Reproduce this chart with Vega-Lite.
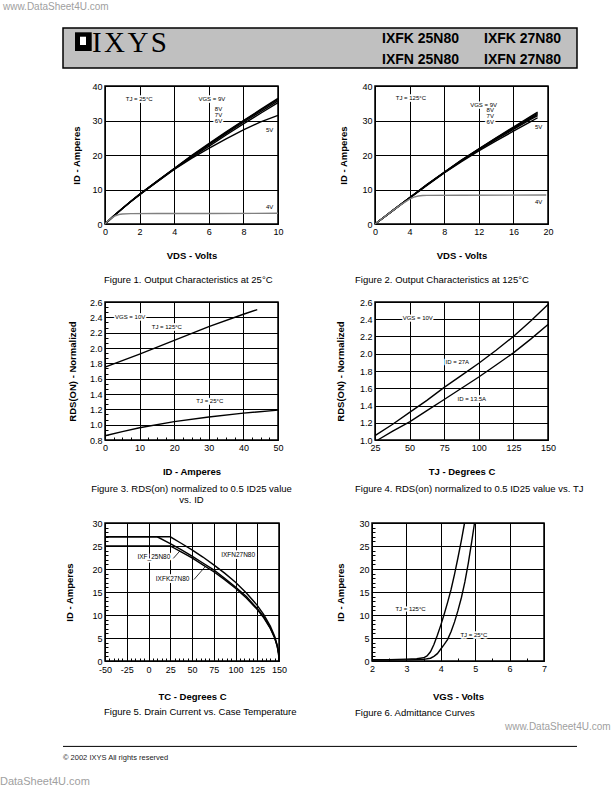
{
"$schema": "https://vega.github.io/schema/vega-lite/v6.json",
"padding": 0,
"background": "white",
"bounds": "flush",
"spacing": 0,
"config": {
 "view": {"stroke": "black", "strokeWidth": 1.5},
 "axis": {"grid": true, "gridColor": "black", "gridWidth": 1, "domain": false, "ticks": true, "tickSize": -3, "tickColor": "black", "tickWidth": 1, "labelPadding": 6, "labelFont": "Liberation Sans", "labelFontSize": 9, "labelColor": "black", "labelFlush": false, "labelOverlap": false, "titleFont": "Liberation Sans", "titleFontSize": 9.5, "titleFontWeight": "bold", "titleColor": "black"},
 "title": {"font": "Liberation Sans", "fontSize": 9.5, "fontWeight": "normal", "color": "black"},
 "text": {"font": "Liberation Sans"}
},
"datasets": {
 "wm": [{"x": 3, "y": 7, "t": "www.DataSheet4U.com"}, {"x": 505, "y": 727, "t": "www.DataSheet4U.com"}],
 "wm2": [{"x": 0, "y": 782, "t": "DataSheet4U.com"}],
 "hbox": [{"x": 0, "x2": 514, "y": 28, "y2": 68}],
 "hlogo": [{"x": 12, "x2": 28.7, "y": 32.3, "y2": 51}],
 "hlogoin": [{"x": 17, "x2": 23, "y": 36.7, "y2": 45}],
 "htitle": [{"x": 29, "y": 51.5, "t": "I\u200aX\u200aY\u200aS"}],
 "hparts": [{"x": 319, "y": 42.8, "t": "IXFK 25N80"}, {"x": 421, "y": 42.8, "t": "IXFK 27N80"}, {"x": 319, "y": 64, "t": "IXFN 25N80"}, {"x": 421, "y": 64, "t": "IXFN 27N80"}],
 "frule": [{"x": 0, "x2": 514, "y": 16.4}],
 "ftext": [{"x": 0, "y": 28.2, "t": "© 2002 IXYS All rights reserved"}],
 "f1": [
  {"s":"9V","x":0,"y":0},{"s":"9V","x":0.5,"y":2.3},{"s":"9V","x":1,"y":4.5},{"s":"9V","x":1.5,"y":6.6},{"s":"9V","x":2,"y":8.6},{"s":"9V","x":3,"y":12.4},{"s":"9V","x":4,"y":16.1},{"s":"9V","x":5,"y":19.8},{"s":"9V","x":6,"y":23.3},{"s":"9V","x":7,"y":26.7},{"s":"9V","x":8,"y":30.0},{"s":"9V","x":9,"y":33.2},{"s":"9V","x":10,"y":36.4},
  {"s":"8V","x":0,"y":0},{"s":"8V","x":0.5,"y":2.3},{"s":"8V","x":1,"y":4.5},{"s":"8V","x":1.5,"y":6.6},{"s":"8V","x":2,"y":8.6},{"s":"8V","x":3,"y":12.4},{"s":"8V","x":4,"y":16.1},{"s":"8V","x":5,"y":19.7},{"s":"8V","x":6,"y":23.1},{"s":"8V","x":7,"y":26.5},{"s":"8V","x":8,"y":29.8},{"s":"8V","x":9,"y":33.0},{"s":"8V","x":10,"y":36.1},
  {"s":"7V","x":0,"y":0},{"s":"7V","x":0.5,"y":2.3},{"s":"7V","x":1,"y":4.5},{"s":"7V","x":1.5,"y":6.6},{"s":"7V","x":2,"y":8.6},{"s":"7V","x":3,"y":12.3},{"s":"7V","x":4,"y":16.0},{"s":"7V","x":5,"y":19.6},{"s":"7V","x":6,"y":22.9},{"s":"7V","x":7,"y":26.2},{"s":"7V","x":8,"y":29.5},{"s":"7V","x":9,"y":32.6},{"s":"7V","x":10,"y":35.7},
  {"s":"6V","x":0,"y":0},{"s":"6V","x":0.5,"y":2.3},{"s":"6V","x":1,"y":4.5},{"s":"6V","x":1.5,"y":6.5},{"s":"6V","x":2,"y":8.5},{"s":"6V","x":3,"y":12.2},{"s":"6V","x":4,"y":15.9},{"s":"6V","x":5,"y":19.3},{"s":"6V","x":6,"y":22.5},{"s":"6V","x":7,"y":25.8},{"s":"6V","x":8,"y":29.0},{"s":"6V","x":9,"y":32.1},{"s":"6V","x":10,"y":35.2},
  {"s":"5V","x":0,"y":0},{"s":"5V","x":0.5,"y":2.3},{"s":"5V","x":1,"y":4.4},{"s":"5V","x":1.5,"y":6.5},{"s":"5V","x":2,"y":8.5},{"s":"5V","x":3,"y":12.2},{"s":"5V","x":4,"y":15.8},{"s":"5V","x":5,"y":19.0},{"s":"5V","x":6,"y":21.9},{"s":"5V","x":7,"y":24.7},{"s":"5V","x":8,"y":27.3},{"s":"5V","x":9,"y":29.6},{"s":"5V","x":10,"y":31.5}
 ],
 "f1g": [{"x":0,"y":0},{"x":0.2,"y":1.0},{"x":0.4,"y":1.8},{"x":0.6,"y":2.4},{"x":0.8,"y":2.75},{"x":1,"y":2.9},{"x":1.5,"y":3.0},{"x":3,"y":3.05},{"x":6,"y":3.05},{"x":10,"y":3.1}],
 "f1lab": [{"x":1.2,"y":36.2,"t":"TJ = 25°C"},{"x":5.4,"y":36.2,"t":"VGS = 9V"},{"x":6.35,"y":33.2,"t":"8V"},{"x":6.35,"y":31.5,"t":"7V"},{"x":6.35,"y":29.8,"t":"6V"},{"x":9.3,"y":27.2,"t":"5V"},{"x":9.3,"y":5.0,"t":"4V"}],
 "f2": [
  {"s":"9V","x":0,"y":0},{"s":"9V","x":1,"y":1.9},{"s":"9V","x":2,"y":3.8},{"s":"9V","x":4,"y":7.6},{"s":"9V","x":6,"y":11.4},{"s":"9V","x":8,"y":15.0},{"s":"9V","x":10,"y":18.5},{"s":"9V","x":12,"y":21.8},{"s":"9V","x":14,"y":25.0},{"s":"9V","x":16,"y":28.1},{"s":"9V","x":18,"y":31.2},{"s":"9V","x":18.8,"y":32.4},
  {"s":"8V","x":0,"y":0},{"s":"8V","x":1,"y":1.9},{"s":"8V","x":2,"y":3.8},{"s":"8V","x":4,"y":7.6},{"s":"8V","x":6,"y":11.4},{"s":"8V","x":8,"y":15.0},{"s":"8V","x":10,"y":18.5},{"s":"8V","x":12,"y":21.7},{"s":"8V","x":14,"y":24.9},{"s":"8V","x":16,"y":27.9},{"s":"8V","x":18,"y":30.9},{"s":"8V","x":18.8,"y":32.1},
  {"s":"7V","x":0,"y":0},{"s":"7V","x":1,"y":1.9},{"s":"7V","x":2,"y":3.8},{"s":"7V","x":4,"y":7.6},{"s":"7V","x":6,"y":11.3},{"s":"7V","x":8,"y":14.9},{"s":"7V","x":10,"y":18.4},{"s":"7V","x":12,"y":21.6},{"s":"7V","x":14,"y":24.7},{"s":"7V","x":16,"y":27.7},{"s":"7V","x":18,"y":30.6},{"s":"7V","x":18.8,"y":31.8},
  {"s":"6V","x":0,"y":0},{"s":"6V","x":1,"y":1.9},{"s":"6V","x":2,"y":3.8},{"s":"6V","x":4,"y":7.6},{"s":"6V","x":6,"y":11.3},{"s":"6V","x":8,"y":14.9},{"s":"6V","x":10,"y":18.3},{"s":"6V","x":12,"y":21.5},{"s":"6V","x":14,"y":24.5},{"s":"6V","x":16,"y":27.4},{"s":"6V","x":18,"y":30.3},{"s":"6V","x":18.8,"y":31.4},
  {"s":"5V","x":0,"y":0},{"s":"5V","x":1,"y":1.9},{"s":"5V","x":2,"y":3.8},{"s":"5V","x":4,"y":7.5},{"s":"5V","x":6,"y":11.2},{"s":"5V","x":8,"y":14.8},{"s":"5V","x":10,"y":18.1},{"s":"5V","x":12,"y":21.2},{"s":"5V","x":14,"y":24.1},{"s":"5V","x":16,"y":26.9},{"s":"5V","x":18,"y":29.7},{"s":"5V","x":18.8,"y":30.8}
 ],
 "f2g": [{"x":0,"y":0},{"x":1,"y":1.9},{"x":2,"y":3.8},{"x":3,"y":5.6},{"x":4,"y":7.2},{"x":4.5,"y":7.8},{"x":5,"y":8.1},{"x":5.5,"y":8.25},{"x":6,"y":8.3},{"x":10,"y":8.35},{"x":19.8,"y":8.4}],
 "f2lab": [{"x":2.4,"y":36.5,"t":"TJ = 125°C"},{"x":11.0,"y":34.6,"t":"VGS = 9V"},{"x":12.9,"y":32.9,"t":"8V"},{"x":12.9,"y":31.2,"t":"7V"},{"x":12.9,"y":29.5,"t":"6V"},{"x":18.5,"y":28.1,"t":"5V"},{"x":18.5,"y":6.3,"t":"4V"}],
 "f3": [
  {"s":"125","x":0,"y":1.75},{"s":"125","x":10,"y":1.92},{"s":"125","x":20,"y":2.1},{"s":"125","x":30,"y":2.28},{"s":"125","x":40,"y":2.44},{"s":"125","x":44,"y":2.5},
  {"s":"25","x":0,"y":0.855},{"s":"25","x":5,"y":0.91},{"s":"25","x":10,"y":0.96},{"s":"25","x":20,"y":1.04},{"s":"25","x":30,"y":1.1},{"s":"25","x":40,"y":1.15},{"s":"25","x":50,"y":1.19}
 ],
 "f3lab": [{"x":2.9,"y":2.41,"t":"VGS = 10V"},{"x":13.5,"y":2.28,"t":"TJ = 125°C"},{"x":26.4,"y":1.31,"t":"TJ = 25°C"}],
 "f4": [
  {"s":"27","x":25,"y":1.05},{"s":"27","x":37.5,"y":1.18},{"s":"27","x":50,"y":1.32},{"s":"27","x":62.5,"y":1.46},{"s":"27","x":75,"y":1.61},{"s":"27","x":87.5,"y":1.75},{"s":"27","x":100,"y":1.89},{"s":"27","x":112.5,"y":2.04},{"s":"27","x":125,"y":2.2},{"s":"27","x":137.5,"y":2.38},{"s":"27","x":150,"y":2.57},
  {"s":"13.5","x":27,"y":1.0},{"s":"13.5","x":37.5,"y":1.1},{"s":"13.5","x":50,"y":1.21},{"s":"13.5","x":62.5,"y":1.34},{"s":"13.5","x":75,"y":1.47},{"s":"13.5","x":87.5,"y":1.6},{"s":"13.5","x":100,"y":1.73},{"s":"13.5","x":112.5,"y":1.87},{"s":"13.5","x":125,"y":2.01},{"s":"13.5","x":137.5,"y":2.17},{"s":"13.5","x":150,"y":2.34}
 ],
 "f4lab": [{"x":45,"y":2.41,"t":"VGS = 10V"},{"x":76,"y":1.9,"t":"ID = 27A"},{"x":84.6,"y":1.48,"t":"ID = 13.5A"}],
 "f5": [
  {"s":"N27","x":-50,"y":27},{"s":"N27","x":25,"y":27},{"s":"N27","x":37.5,"y":25.6},{"s":"N27","x":50,"y":24.15},{"s":"N27","x":62.5,"y":22.6},{"s":"N27","x":75,"y":20.9},{"s":"N27","x":87.5,"y":19.1},{"s":"N27","x":100,"y":17.1},{"s":"N27","x":112.5,"y":14.8},{"s":"N27","x":125,"y":12.1},{"s":"N27","x":132.5,"y":10.1},{"s":"N27","x":140,"y":7.6},{"s":"N27","x":145,"y":5.4},{"s":"N27","x":148,"y":3.4},{"s":"N27","x":149.5,"y":1.7},{"s":"N27","x":150,"y":0},
  {"s":"K27","x":-50,"y":27},{"s":"K27","x":10,"y":27},{"s":"K27","x":25,"y":25.5},{"s":"K27","x":37.5,"y":24.2},{"s":"K27","x":50,"y":22.8},{"s":"K27","x":62.5,"y":21.3},{"s":"K27","x":75,"y":19.8},{"s":"K27","x":87.5,"y":18.0},{"s":"K27","x":100,"y":16.1},{"s":"K27","x":112.5,"y":14.0},{"s":"K27","x":125,"y":11.4},{"s":"K27","x":132.5,"y":9.6},{"s":"K27","x":140,"y":7.2},{"s":"K27","x":145,"y":5.1},{"s":"K27","x":148,"y":3.2},{"s":"K27","x":149.5,"y":1.6},{"s":"K27","x":150,"y":0},
  {"s":"F25","x":-50,"y":25},{"s":"F25","x":25,"y":25},{"s":"F25","x":37.5,"y":23.7},{"s":"F25","x":50,"y":22.4},{"s":"F25","x":62.5,"y":20.9},{"s":"F25","x":75,"y":19.4},{"s":"F25","x":87.5,"y":17.7},{"s":"F25","x":100,"y":15.8},{"s":"F25","x":112.5,"y":13.7},{"s":"F25","x":125,"y":11.2},{"s":"F25","x":132.5,"y":9.4},{"s":"F25","x":140,"y":7.1},{"s":"F25","x":145,"y":5.0},{"s":"F25","x":148,"y":3.2},{"s":"F25","x":149.5,"y":1.6},{"s":"F25","x":150,"y":0}
 ],
 "f5lab": [{"x":-12.7,"y":22.6,"t":"IXF_25N80"},{"x":83.5,"y":23.0,"t":"IXFN27N80"},{"x":8.4,"y":17.8,"t":"IXFK27N80"}],
 "f5lead": [{"x":28.5,"y":22.3,"x2":36,"y2":23.9},{"x":52.2,"y":17.7,"x2":65.6,"y2":20.6}],
 "f6": [
  {"s":"125","x":2,"y":0.3},{"s":"125","x":2.5,"y":0.3},{"s":"125","x":3,"y":0.4},{"s":"125","x":3.3,"y":0.5},{"s":"125","x":3.5,"y":0.7},{"s":"125","x":3.6,"y":1.1},{"s":"125","x":3.7,"y":2.0},{"s":"125","x":3.8,"y":3.6},{"s":"125","x":3.9,"y":5.6},{"s":"125","x":4.0,"y":7.8},{"s":"125","x":4.1,"y":10.2},{"s":"125","x":4.2,"y":12.8},{"s":"125","x":4.3,"y":15.6},{"s":"125","x":4.4,"y":18.9},{"s":"125","x":4.5,"y":22.5},{"s":"125","x":4.6,"y":26.3},{"s":"125","x":4.69,"y":30},
  {"s":"25","x":2,"y":0.2},{"s":"25","x":3,"y":0.25},{"s":"25","x":3.5,"y":0.35},{"s":"25","x":3.7,"y":0.6},{"s":"25","x":3.8,"y":1.0},{"s":"25","x":3.9,"y":1.6},{"s":"25","x":4.0,"y":2.6},{"s":"25","x":4.1,"y":3.6},{"s":"25","x":4.2,"y":4.7},{"s":"25","x":4.3,"y":6.4},{"s":"25","x":4.4,"y":8.5},{"s":"25","x":4.5,"y":11.0},{"s":"25","x":4.6,"y":13.8},{"s":"25","x":4.7,"y":17.2},{"s":"25","x":4.8,"y":21.3},{"s":"25","x":4.9,"y":26.0},{"s":"25","x":4.98,"y":30}
 ],
 "f6lab": [{"x":2.68,"y":11.4,"t":"TJ = 125°C"},{"x":4.57,"y":5.75,"t":"TJ = 25°C"}]
},
"hconcat": [
 {
  "width": 105, "height": 792, "view": {"stroke": null},
  "encoding": {
   "x": {"field": "x", "type": "quantitative", "scale": {"domain": [0, 105], "nice": false, "zero": false}, "axis": null},
   "y": {"field": "y", "type": "quantitative", "scale": {"domain": [0, 792], "reverse": true, "nice": false, "zero": false}, "axis": null},
   "text": {"field": "t"}
  },
  "layer": [
   {"data": {"name": "wm"}, "mark": {"type": "text", "align": "left", "baseline": "middle", "fontSize": 10, "color": "#a0a0a0"}},
   {"data": {"name": "wm2"}, "mark": {"type": "text", "align": "left", "baseline": "middle", "fontSize": 11, "color": "#a0a0a0"}}
  ]
 },
 {
  "spacing": 12,
  "vconcat": [
   {
    "width": 472, "height": 68, "view": {"stroke": null},
    "encoding": {
     "x": {"field": "x", "type": "quantitative", "scale": {"domain": [42, 514], "nice": false, "zero": false}, "axis": null},
     "y": {"field": "y", "type": "quantitative", "scale": {"domain": [0, 68], "reverse": true, "nice": false, "zero": false}, "axis": null}
    },
    "layer": [
     {"data": {"name": "hbox"}, "mark": {"type": "rect", "fill": "#c0c0c0", "stroke": "black", "strokeWidth": 1.5}, "encoding": {"x2": {"field": "x2"}, "y2": {"field": "y2"}}},
     {"data": {"name": "hlogo"}, "mark": {"type": "rect", "fill": "black"}, "encoding": {"x2": {"field": "x2"}, "y2": {"field": "y2"}}},
     {"data": {"name": "hlogoin"}, "mark": {"type": "rect", "fill": "white"}, "encoding": {"x2": {"field": "x2"}, "y2": {"field": "y2"}}},
     {"data": {"name": "htitle"}, "mark": {"type": "text", "align": "left", "baseline": "alphabetic", "font": "Liberation Serif", "fontSize": 29, "color": "black"}, "encoding": {"text": {"field": "t"}}},
     {"data": {"name": "hparts"}, "mark": {"type": "text", "align": "left", "baseline": "alphabetic", "fontSize": 14, "fontWeight": "bold", "color": "black"}, "encoding": {"text": {"field": "t"}}}
    ]
   },
   {
    "bounds": "flush", "spacing": 97,
    "hconcat": [
     {
      "width": 173, "height": 138,
      "title": {"text": "Figure 1. Output Characteristics at 25°C", "orient": "bottom", "anchor": "start", "frame": "group", "dx": -1, "offset": 15},
      "encoding": {
       "x": {"field": "x", "type": "quantitative", "scale": {"domain": [0, 10], "nice": false, "zero": false}, "axis": {"values": [0, 2, 4, 6, 8, 10], "title": "VDS - Volts", "titlePadding": 14}},
       "y": {"field": "y", "type": "quantitative", "scale": {"domain": [0, 40], "nice": false, "zero": false}, "axis": {"values": [0, 10, 20, 30, 40], "title": "ID - Amperes", "titlePadding": 10.5}}
      },
      "layer": [
       {"data": {"name": "f1"}, "mark": {"type": "line", "color": "black", "strokeWidth": 1.4}, "encoding": {"detail": {"field": "s"}}},
       {"data": {"name": "f1g"}, "mark": {"type": "line", "color": "#808080", "strokeWidth": 1.4}},
       {"data": {"name": "f1lab"}, "mark": {"type": "text", "align": "left", "baseline": "middle", "fontSize": 6, "fill": "white", "stroke": "white", "strokeWidth": 3.5, "strokeJoin": "round"}, "encoding": {"text": {"field": "t"}}},
       {"data": {"name": "f1lab"}, "mark": {"type": "text", "align": "left", "baseline": "middle", "fontSize": 6, "color": "black"}, "encoding": {"text": {"field": "t"}}}
      ]
     },
     {
      "width": 173, "height": 138,
      "title": {"text": "Figure 2. Output Characteristics at 125°C", "orient": "bottom", "anchor": "start", "frame": "group", "dx": -20, "offset": 15},
      "encoding": {
       "x": {"field": "x", "type": "quantitative", "scale": {"domain": [0, 20], "nice": false, "zero": false}, "axis": {"values": [0, 4, 8, 12, 16, 20], "title": "VDS - Volts", "titlePadding": 14}},
       "y": {"field": "y", "type": "quantitative", "scale": {"domain": [0, 40], "nice": false, "zero": false}, "axis": {"values": [0, 10, 20, 30, 40], "title": "ID - Amperes", "titlePadding": 13}}
      },
      "layer": [
       {"data": {"name": "f2"}, "mark": {"type": "line", "color": "black", "strokeWidth": 1.4}, "encoding": {"detail": {"field": "s"}}},
       {"data": {"name": "f2g"}, "mark": {"type": "line", "color": "#808080", "strokeWidth": 1.4}},
       {"data": {"name": "f2lab"}, "mark": {"type": "text", "align": "left", "baseline": "middle", "fontSize": 6, "fill": "white", "stroke": "white", "strokeWidth": 3.5, "strokeJoin": "round"}, "encoding": {"text": {"field": "t"}}},
       {"data": {"name": "f2lab"}, "mark": {"type": "text", "align": "left", "baseline": "middle", "fontSize": 6, "color": "black"}, "encoding": {"text": {"field": "t"}}}
      ]
     }
    ]
   },
   {
    "bounds": "flush", "spacing": 97,
    "hconcat": [
     {
      "width": 173, "height": 138,
      "title": {"text": ["Figure 3. RDS(on) normalized to 0.5 ID25 value", "vs. ID"], "orient": "bottom", "anchor": "middle", "frame": "group", "offset": 8},
      "encoding": {
       "x": {"field": "x", "type": "quantitative", "scale": {"domain": [0, 50], "nice": false, "zero": false}, "axis": {"values": [0, 2.5, 5, 7.5, 10, 12.5, 15, 17.5, 20, 22.5, 25, 27.5, 30, 32.5, 35, 37.5, 40, 42.5, 45, 47.5, 50], "labelExpr": "datum.value % 10 === 0 ? format(datum.value, 'd') : ''", "gridOpacity": {"condition": {"test": "datum.value % 10 === 0", "value": 1}, "value": 0}, "title": "ID - Amperes", "titlePadding": 14}},
       "y": {"field": "y", "type": "quantitative", "scale": {"domain": [0.8, 2.6], "nice": false, "zero": false}, "axis": {"values": [0.8, 0.8667, 0.9333, 1.0, 1.0667, 1.1333, 1.2, 1.2667, 1.3333, 1.4, 1.4667, 1.5333, 1.6, 1.6667, 1.7333, 1.8, 1.8667, 1.9333, 2.0, 2.0667, 2.1333, 2.2, 2.2667, 2.3333, 2.4, 2.4667, 2.5333, 2.6], "labelExpr": "abs(datum.value*5 - round(datum.value*5)) < 0.01 ? format(datum.value, '.1f') : ''", "gridOpacity": {"condition": {"test": "abs(datum.value*5 - round(datum.value*5)) < 0.01", "value": 1}, "value": 0}, "title": "RDS(ON) - Normalized", "titlePadding": 12}}
      },
      "layer": [
       {"data": {"name": "f3"}, "mark": {"type": "line", "color": "black", "strokeWidth": 1.4}, "encoding": {"detail": {"field": "s"}}},
       {"data": {"name": "f3lab"}, "mark": {"type": "text", "align": "left", "baseline": "middle", "fontSize": 6, "fill": "white", "stroke": "white", "strokeWidth": 3.5, "strokeJoin": "round"}, "encoding": {"text": {"field": "t"}}},
       {"data": {"name": "f3lab"}, "mark": {"type": "text", "align": "left", "baseline": "middle", "fontSize": 6, "color": "black"}, "encoding": {"text": {"field": "t"}}}
      ]
     },
     {
      "width": 173, "height": 138,
      "title": {"text": "Figure 4. RDS(on) normalized to 0.5 ID25 value vs. TJ", "orient": "bottom", "anchor": "start", "frame": "group", "dx": -20, "offset": 8},
      "encoding": {
       "x": {"field": "x", "type": "quantitative", "scale": {"domain": [25, 150], "nice": false, "zero": false}, "axis": {"values": [25, 50, 75, 100, 125, 150], "title": "TJ - Degrees C", "titlePadding": 14}},
       "y": {"field": "y", "type": "quantitative", "scale": {"domain": [1.0, 2.6], "nice": false, "zero": false}, "axis": {"values": [1.0, 1.2, 1.4, 1.6, 1.8, 2.0, 2.2, 2.4, 2.6], "format": ".1f", "title": "RDS(ON) - Normalized", "titlePadding": 13.5}}
      },
      "layer": [
       {"data": {"name": "f4"}, "mark": {"type": "line", "color": "black", "strokeWidth": 1.4}, "encoding": {"detail": {"field": "s"}}},
       {"data": {"name": "f4lab"}, "mark": {"type": "text", "align": "left", "baseline": "middle", "fontSize": 6, "fill": "white", "stroke": "white", "strokeWidth": 3.5, "strokeJoin": "round"}, "encoding": {"text": {"field": "t"}}},
       {"data": {"name": "f4lab"}, "mark": {"type": "text", "align": "left", "baseline": "middle", "fontSize": 6, "color": "black"}, "encoding": {"text": {"field": "t"}}}
      ]
     }
    ]
   },
   {
    "bounds": "flush", "spacing": 93,
    "hconcat": [
     {
      "width": 174, "height": 138,
      "title": {"text": "Figure 5. Drain Current vs. Case Temperature", "orient": "bottom", "anchor": "start", "frame": "group", "dx": -1, "offset": 6},
      "encoding": {
       "x": {"field": "x", "type": "quantitative", "scale": {"domain": [-50, 150], "nice": false, "zero": false}, "axis": {"values": [-50, -45, -40, -35, -30, -25, -20, -15, -10, -5, 0, 5, 10, 15, 20, 25, 30, 35, 40, 45, 50, 55, 60, 65, 70, 75, 80, 85, 90, 95, 100, 105, 110, 115, 120, 125, 130, 135, 140, 145, 150], "labelPadding": 7.5, "labelExpr": "datum.value % 25 === 0 ? (datum.value < 0 ? '-' + format(-datum.value, 'd') : format(datum.value, 'd')) : ''", "gridOpacity": {"condition": {"test": "datum.value % 25 === 0", "value": 1}, "value": 0}, "title": "TC - Degrees C", "titlePadding": 16.5}},
       "y": {"field": "y", "type": "quantitative", "scale": {"domain": [0, 30], "nice": false, "zero": false}, "axis": {"values": [0, 1, 2, 3, 4, 5, 6, 7, 8, 9, 10, 11, 12, 13, 14, 15, 16, 17, 18, 19, 20, 21, 22, 23, 24, 25, 26, 27, 28, 29, 30], "labelExpr": "datum.value % 5 === 0 ? format(datum.value, 'd') : ''", "gridOpacity": {"condition": {"test": "datum.value % 5 === 0", "value": 1}, "value": 0}, "title": "ID - Amperes", "titlePadding": 17.5}}
      },
      "layer": [
       {"data": {"name": "f5"}, "mark": {"type": "line", "color": "black", "strokeWidth": 1.4}, "encoding": {"detail": {"field": "s"}}},
       {"data": {"name": "f5lead"}, "mark": {"type": "rule", "color": "black", "strokeWidth": 0.8}, "encoding": {"x2": {"field": "x2"}, "y2": {"field": "y2"}}},
       {"data": {"name": "f5lab"}, "mark": {"type": "text", "align": "left", "baseline": "middle", "fontSize": 6.5, "fill": "white", "stroke": "white", "strokeWidth": 3.5, "strokeJoin": "round"}, "encoding": {"text": {"field": "t"}}},
       {"data": {"name": "f5lab"}, "mark": {"type": "text", "align": "left", "baseline": "middle", "fontSize": 6.5, "color": "black"}, "encoding": {"text": {"field": "t"}}}
      ]
     },
     {
      "width": 172, "height": 138,
      "title": {"text": "Figure 6. Admittance Curves", "orient": "bottom", "anchor": "start", "frame": "group", "dx": -17, "offset": 7},
      "encoding": {
       "x": {"field": "x", "type": "quantitative", "scale": {"domain": [2, 7], "nice": false, "zero": false}, "axis": {"values": [2, 2.5, 3, 3.5, 4, 4.5, 5, 5.5, 6, 6.5, 7], "labelExpr": "datum.value % 1 === 0 ? format(datum.value, 'd') : ''", "gridOpacity": {"condition": {"test": "datum.value % 1 === 0", "value": 1}, "value": 0}, "title": "VGS - Volts", "titlePadding": 18}},
       "y": {"field": "y", "type": "quantitative", "scale": {"domain": [0, 30], "nice": false, "zero": false}, "axis": {"values": [0, 1, 2, 3, 4, 5, 6, 7, 8, 9, 10, 11, 12, 13, 14, 15, 16, 17, 18, 19, 20, 21, 22, 23, 24, 25, 26, 27, 28, 29, 30], "labelExpr": "datum.value % 5 === 0 ? format(datum.value, 'd') : ''", "gridOpacity": {"condition": {"test": "datum.value % 5 === 0", "value": 1}, "value": 0}, "title": "ID - Amperes", "titlePadding": 13}}
      },
      "layer": [
       {"data": {"name": "f6"}, "mark": {"type": "line", "color": "black", "strokeWidth": 1.4}, "encoding": {"detail": {"field": "s"}}},
       {"data": {"name": "f6lab"}, "mark": {"type": "text", "align": "left", "baseline": "middle", "fontSize": 6, "fill": "white", "stroke": "white", "strokeWidth": 3.5, "strokeJoin": "round"}, "encoding": {"text": {"field": "t"}}},
       {"data": {"name": "f6lab"}, "mark": {"type": "text", "align": "left", "baseline": "middle", "fontSize": 6, "color": "black"}, "encoding": {"text": {"field": "t"}}}
      ]
     }
    ]
   },
   {
    "width": 472, "height": 30, "view": {"stroke": null},
    "encoding": {
     "x": {"field": "x", "type": "quantitative", "scale": {"domain": [42, 514], "nice": false, "zero": false}, "axis": null},
     "y": {"field": "y", "type": "quantitative", "scale": {"domain": [0, 30], "reverse": true, "nice": false, "zero": false}, "axis": null}
    },
    "layer": [
     {"data": {"name": "frule"}, "mark": {"type": "rule", "color": "black", "strokeWidth": 1}, "encoding": {"x2": {"field": "x2"}}},
     {"data": {"name": "ftext"}, "mark": {"type": "text", "align": "left", "baseline": "middle", "fontSize": 7.5, "color": "#222222"}, "encoding": {"text": {"field": "t"}}}
    ]
   }
  ]
 }
]
}
